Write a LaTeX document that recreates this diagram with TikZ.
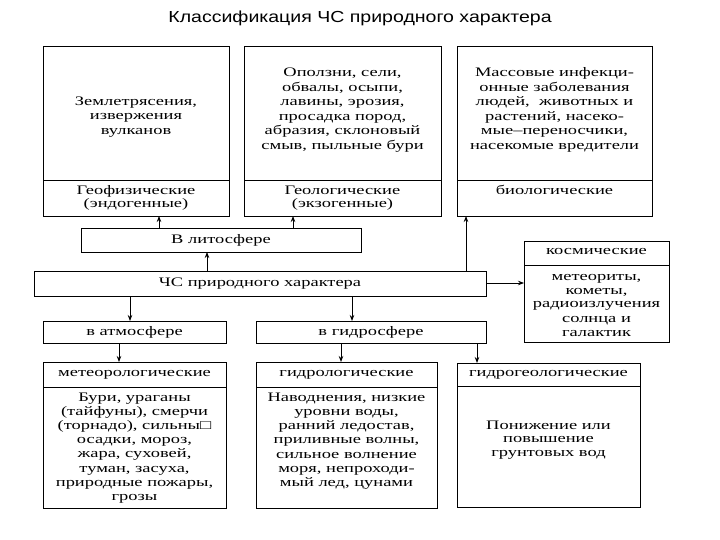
\documentclass[tikz,border=0pt]{standalone}
\usepackage{fontspec}
\setmainfont{Liberation Serif}[FakeStretch=1.42]
\newfontfamily\titlefont{Liberation Sans}[FakeStretch=1.22]
\usetikzlibrary{arrows.meta}
\tikzset{
  box/.style={draw=black, line width=0.8pt, inner sep=0pt, outer sep=0pt, anchor=north west},
  txt/.style={align=center, inner sep=0pt, font=\fontsize{13}{14.5}\selectfont},
  arr/.style={draw=black, line width=0.8pt, -{Stealth[length=6pt,width=4.5pt]}}
}
\begin{document}
\begin{tikzpicture}[x=1pt,y=-1pt]
\useasboundingbox (0,0) rectangle (720,540);
\fill[white] (0,0) rectangle (720,540);
\node[font=\titlefont\fontsize{16}{18}\selectfont, anchor=base] (title) at (360,23) {Классификация ЧС природного характера};

% top row
\node[box, minimum width=186pt, minimum height=134pt] (b1t) at (43,46) {};
\node[box, minimum width=186pt, minimum height=36pt] (b1b) at (43,180) {};
\node[box, minimum width=197pt, minimum height=134pt] (b2t) at (244,46) {};
\node[box, minimum width=197pt, minimum height=36pt] (b2b) at (244,180) {};
\node[box, minimum width=195pt, minimum height=134pt] (b3t) at (457,46) {};
\node[box, minimum width=195pt, minimum height=36pt] (b3b) at (457,180) {};

\node[txt] (t1) at (136,117) {Землетрясения,\\извержения\\вулканов};
\node[txt] (t2) at (342.5,110) {Оползни, сели,\\обвалы, осыпи,\\лавины, эрозия,\\просадка пород,\\абразия, склоновый\\смыв, пыльные бури};
\node[txt] (t3) at (554.5,110) {Массовые инфекци-\\онные заболевания\\людей,\ \ животных и\\растений, насеко-\\мые–переносчики,\\насекомые вредители};
\node[txt, font=\fontsize{13}{12.5}\selectfont] (h1) at (136,198) {Геофизические\\(эндогенные)};
\node[txt, font=\fontsize{13}{12.5}\selectfont] (h2) at (342.5,198) {Геологические\\(экзогенные)};
\node[txt] (h3) at (554.5,190) {биологические};

% middle
\node[box, minimum width=280pt, minimum height=24pt] (lit) at (81,228) {};
\node[txt] at (221,240) {В литосфере};
\node[box, minimum width=452pt, minimum height=25pt] (chs) at (34,271) {};
\node[txt] at (260,283.5) {ЧС природного характера};

\node[box, minimum width=145pt, minimum height=24pt] (kosh) at (524,241) {};
\node[box, minimum width=145pt, minimum height=77pt] (kosb) at (524,265) {};
\node[txt] at (596.5,252) {космические};
\node[txt, font=\fontsize{13}{14}\selectfont] at (596.5,305) {метеориты,\\кометы,\\радиоизлучения\\солнца и\\галактик};

\node[box, minimum width=183pt, minimum height=22pt] (atm) at (43,321) {};
\node[txt] at (134.5,332) {в атмосфере};
\node[box, minimum width=230pt, minimum height=22pt] (hyd) at (256,321) {};
\node[txt] at (371,332) {в гидросфере};

% bottom row
\node[box, minimum width=183pt, minimum height=25pt] (m1h) at (43,362) {};
\node[box, minimum width=183pt, minimum height=121pt] (m1b) at (43,387) {};
\node[box, minimum width=181pt, minimum height=25pt] (m2h) at (256,362) {};
\node[box, minimum width=181pt, minimum height=121pt] (m2b) at (256,387) {};
\node[box, minimum width=183pt, minimum height=23pt] (m3h) at (457,363) {};
\node[box, minimum width=183pt, minimum height=121pt] (m3b) at (457,386) {};
\node[txt] at (134.5,374.5) {метеорологические};
\node[txt] at (346.5,374.5) {гидрологические};
\node[txt] at (548.5,374.5) {гидрогеологические};
\node[txt, font=\fontsize{13}{14.2}\selectfont] at (134.5,448) {Бури, ураганы\\(тайфуны), смерчи\\(торнадо), сильны□\\осадки, мороз,\\жара, суховей,\\туман, засуха,\\природные пожары,\\грозы};
\node[txt, font=\fontsize{13}{14.2}\selectfont] at (346.5,441) {Наводнения, низкие\\уровни воды,\\ранний ледостав,\\приливные волны,\\сильное волнение\\моря, непроходи-\\мый лед, цунами};
\node[txt, font=\fontsize{13}{13.5}\selectfont] at (548.5,440) {Понижение или\\повышение\\грунтовых вод};

% connectors
\draw[arr] (lit.north -| 159,0) -- (b1b.south -| 159,0);
\draw[arr] (lit.north -| 293,0) -- (b2b.south -| 293,0);
\draw[arr] (chs.north -| 207,0) -- (lit.south -| 207,0);
\draw[arr] (chs.north -| 466,0) -- (b3b.south -| 466,0);
\draw[arr] (chs.east |- 0,283) -- (kosb.west |- 0,283);
\draw[arr] (chs.south -| 130,0) -- (atm.north -| 130,0);
\draw[arr] (chs.south -| 352,0) -- (hyd.north -| 352,0);
\draw[arr] (atm.south -| 119,0) -- (m1h.north -| 119,0);
\draw[arr] (hyd.south -| 341,0) -- (m2h.north -| 341,0);
\draw[arr] (hyd.south -| 477,0) -- (m3h.north -| 477,0);
\end{tikzpicture}
\end{document}
